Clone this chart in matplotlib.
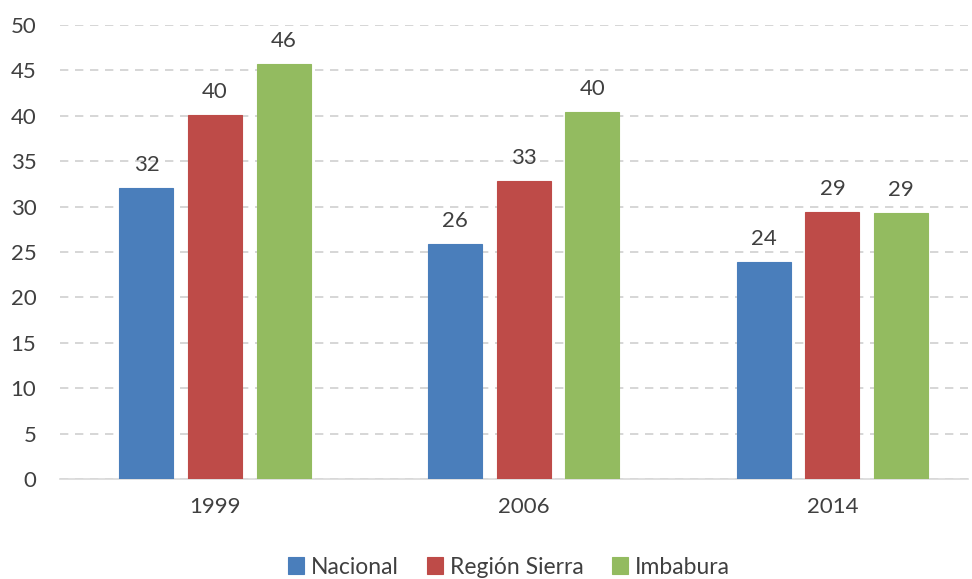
import matplotlib
matplotlib.use("Agg")
import matplotlib.pyplot as plt
import numpy as np

years = ["1999", "2006", "2014"]
series_names = ["Nacional", "Región Sierra", "Imbabura"]
nacional = [32.1, 25.9, 23.9]
region_sierra = [40.1, 32.85, 29.4]
imbabura = [45.7, 40.4, 29.3]
colors = ["#4A7EBB", "#BE4B48", "#93BB60"]

plt.rcParams['font.family'] = ['Lato', 'DejaVu Sans']

W, H = 972, 579
fig = plt.figure(figsize=(W/100, H/100), dpi=100)
ax = fig.add_axes([60/W, (H-479)/H, (968-60)/W, (479-25)/H])

x = np.arange(len(years))
bw = 0.175
step = 0.222
data = [nacional, region_sierra, imbabura]
for i, (vals, name, c) in enumerate(zip(data, series_names, colors)):
    pos = x + (i-1)*step
    bars = ax.bar(pos, vals, width=bw, color=c, edgecolor=c, linewidth=0.8,
                  label=name, zorder=3)
    for b, v in zip(bars, vals):
        ax.annotate(f"{round(v):d}", (b.get_x()+b.get_width()/2, v),
                    xytext=(0, 13), textcoords='offset pixels',
                    ha='center', va='bottom', fontsize=16, color='#404040')

ax.set_xlim(-0.502, 2.439)
ax.set_ylim(0, 50)
ax.set_yticks(np.arange(0, 51, 5))
ax.set_xticks(x)
ax.set_xticklabels(years)
ax.yaxis.grid(True, linestyle=(0, (5, 4)), color='#D0D0D0', linewidth=1.2, zorder=0)
ax.set_axisbelow(True)
for s in ['top', 'right', 'left']:
    ax.spines[s].set_visible(False)
ax.spines['bottom'].set_color('#D9D9D9')
ax.spines['bottom'].set_linewidth(1.2)
ax.tick_params(axis='both', length=0, labelsize=16, colors='#404040')
ax.tick_params(axis='y', pad=17)
ax.tick_params(axis='x', pad=13)

leg = fig.legend(loc='center', bbox_to_anchor=(509/W, (H-567)/H), ncol=3, frameon=False,
                 fontsize=16.5, handlelength=0.7, handleheight=0.7, handletextpad=0.3,
                 columnspacing=1.25)
for t in leg.get_texts():
    t.set_color('#404040')

fig.savefig("out.png", dpi=100)
